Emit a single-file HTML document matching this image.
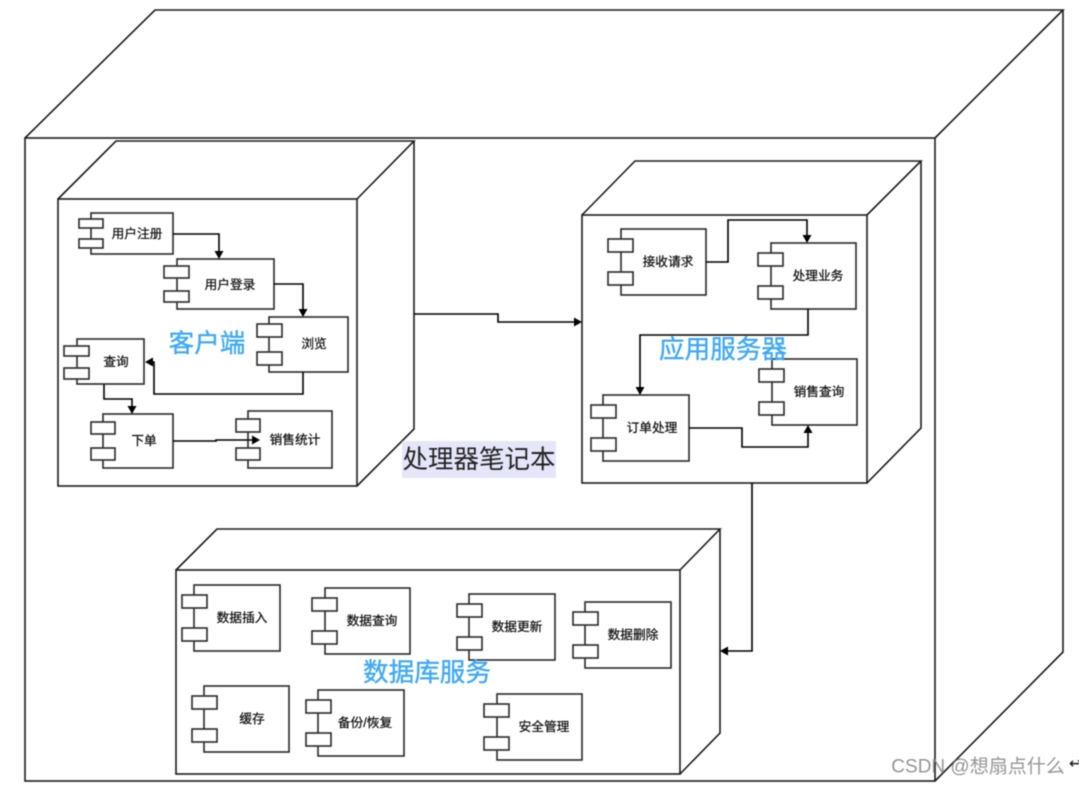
<!DOCTYPE html>
<html>
<head>
<meta charset="utf-8">
<style>
html,body{margin:0;padding:0;background:#fff;width:1079px;height:787px;overflow:hidden}
svg{display:block;filter:blur(.4px)}
text{font-family:"Liberation Sans","Noto Sans CJK SC",sans-serif;text-anchor:middle;dominant-baseline:central}
.n{fill:none;stroke:#1c1c1c;stroke-width:1.6;stroke-linejoin:miter}
.c rect{fill:#fff;stroke:#2a2a2a;stroke-width:1.6}
.c text{font-size:12.7px;fill:#111;stroke:#111;stroke-width:.25}
.e{fill:none;stroke:#000;stroke-width:1.6}
.a{fill:#000}
.b{font-size:25.6px;fill:#3fa9f5;stroke:#3fa9f5;stroke-width:.4}
</style>
</head>
<body>
<svg width="1079" height="787" viewBox="0 0 1079 787" xmlns="http://www.w3.org/2000/svg">
<rect width="1079" height="787" fill="#fff"/>

<!-- outer node -->
<g class="n">
<rect x="25" y="138" width="910" height="643"/>
<path d="M25 138L155 10H1063L935 138M1063 10V652L935 781"/>
</g>

<!-- client node -->
<g class="n">
<rect x="58" y="199" width="299" height="287"/>
<path d="M58 199L116 141H414L357 199M414 141V429L357 486"/>
</g>

<!-- app node -->
<g class="n">
<rect x="582" y="215" width="285" height="268"/>
<path d="M582 215L635 161H921L867 215M921 161V428L867 483"/>
</g>

<!-- db node -->
<g class="n">
<rect x="176" y="570" width="504" height="204"/>
<path d="M176 570L217 529H720L680 570M720 529V733L680 774"/>
</g>

<!-- label for outer -->
<rect x="402" y="441" width="154" height="37" fill="#e6e6fb"/>
<text x="479" y="460" font-size="25.5" fill="#222">处理器笔记本</text>

<!-- client components -->
<g class="c">
<rect x="91" y="213" width="82" height="41"/><rect x="79" y="219" width="24" height="9"/><rect x="79" y="239" width="24" height="9"/><text x="137" y="234">用户注册</text>
<rect x="177" y="259" width="97" height="50"/><rect x="164" y="266" width="25" height="12"/><rect x="164" y="291" width="25" height="11"/><text x="230" y="285">用户登录</text>
<rect x="269" y="317" width="79" height="55"/><rect x="257" y="324" width="25" height="13"/><rect x="257" y="352" width="25" height="13"/><text x="314" y="344">浏览</text>
<rect x="77" y="339" width="67" height="45"/><rect x="64" y="346" width="25" height="10"/><rect x="64" y="368" width="25" height="11"/><text x="116" y="362">查询</text>
<rect x="103" y="414" width="70" height="54"/><rect x="91" y="422" width="24" height="12"/><rect x="91" y="448" width="24" height="12"/><text x="144" y="441">下单</text>
<rect x="248" y="411" width="84" height="57"/><rect x="236" y="419" width="24" height="13"/><rect x="236" y="448" width="24" height="12"/><text x="295" y="440">销售统计</text>
</g>

<!-- app components -->
<g class="c">
<rect x="621" y="229" width="85" height="66"/><rect x="608" y="239" width="25" height="13"/><rect x="608" y="272" width="25" height="13"/><text x="668" y="262">接收请求</text>
<rect x="771" y="243" width="85" height="66"/><rect x="758" y="253" width="25" height="13"/><rect x="758" y="286" width="25" height="13"/><text x="818" y="276">处理业务</text>
<rect x="772" y="359" width="85" height="66"/><rect x="759" y="369" width="25" height="13"/><rect x="759" y="402" width="25" height="13"/><text x="819" y="392">销售查询</text>
<rect x="603" y="395" width="86" height="66"/><rect x="591" y="405" width="25" height="13"/><rect x="591" y="438" width="25" height="13"/><text x="652" y="428">订单处理</text>
</g>

<!-- db components -->
<g class="c">
<rect x="194" y="585" width="86" height="66"/><rect x="182" y="595" width="25" height="13"/><rect x="182" y="628" width="25" height="13"/><text x="242" y="618">数据插入</text>
<rect x="325" y="588" width="85" height="66"/><rect x="312" y="598" width="25" height="13"/><rect x="312" y="631" width="25" height="13"/><text x="372" y="621">数据查询</text>
<rect x="469" y="594" width="86" height="66"/><rect x="457" y="604" width="25" height="13"/><rect x="457" y="637" width="25" height="13"/><text x="517" y="627">数据更新</text>
<rect x="585" y="602" width="86" height="66"/><rect x="573" y="612" width="25" height="13"/><rect x="573" y="645" width="25" height="13"/><text x="633" y="635">数据删除</text>
<rect x="204" y="686" width="85" height="66"/><rect x="192" y="696" width="25" height="13"/><rect x="192" y="729" width="25" height="13"/><text x="252" y="719">缓存</text>
<rect x="318" y="690" width="86" height="66"/><rect x="306" y="700" width="25" height="13"/><rect x="306" y="733" width="25" height="13"/><text x="365" y="723">备份/恢复</text>
<rect x="497" y="694" width="85" height="66"/><rect x="484" y="704" width="25" height="13"/><rect x="484" y="737" width="25" height="13"/><text x="544" y="727">安全管理</text>
</g>

<!-- edges -->
<g class="e">
<path d="M173 234H219V253"/>
<path d="M274 284H303V311"/>
<path d="M303 372V394H154V362H150"/>
<path d="M104 384V399H132V408"/>
<path d="M173 441H216V440H254"/>
<path d="M414 314H498V322H576"/>
<path d="M706 262H728V220H807V237"/>
<path d="M808 309V335H640V389"/>
<path d="M689 428H742V447H808V431"/>
<path d="M752 483V651H726"/>
</g>
<g class="a">
<path d="M214.500 251H223.500L219 259Z"/>
<path d="M298.500 309H307.500L303 317Z"/>
<path d="M153 357.500V366.500L145 362Z"/>
<path d="M127.500 406H136.500L132 414Z"/>
<path d="M252 435.500V444.500L260 440Z"/>
<path d="M574 317.500V326.500L582 322Z"/>
<path d="M802.500 235H811.500L807 243Z"/>
<path d="M635.500 387H644.500L640 395Z"/>
<path d="M803.500 433H812.500L808 425Z"/>
<path d="M728 646.500V655.500L720 651Z"/>
</g>

<!-- blue labels -->
<text class="b" x="207" y="344">客户端</text>
<text class="b" x="723" y="350">应用服务器</text>
<text class="b" x="427" y="673">数据库服务</text>

<!-- watermark -->
<rect x="1055" y="747" width="30" height="38" rx="6" fill="#fff"/>
<text x="978" y="767" font-size="19" fill="#8a8a8a" fill-opacity=".9">CSDN @想扇点什么</text>
<text x="1075" y="763" font-size="14" fill="#222" stroke="#222" stroke-width=".3">↩</text>
</svg>
</body>
</html>
